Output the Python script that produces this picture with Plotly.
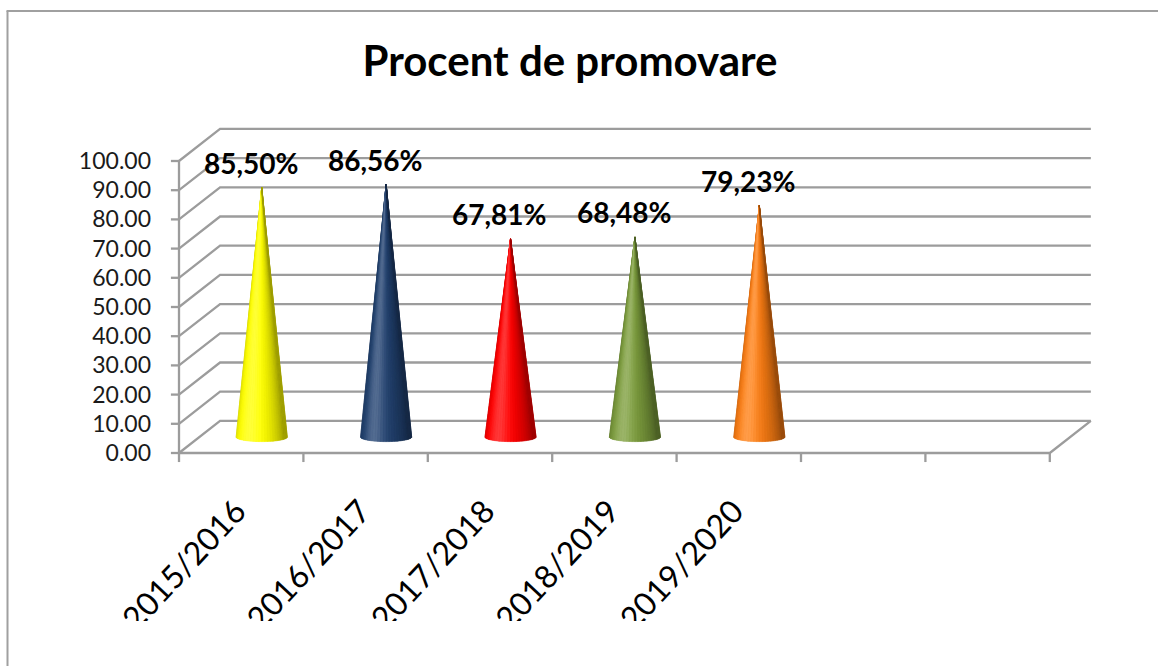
import math
import plotly.graph_objects as go

# ---------------- data ----------------
categories = ["2015/2016", "2016/2017", "2017/2018", "2018/2019", "2019/2020"]
values = [85.50, 86.56, 67.81, 68.48, 79.23]
cone_colors = ["#FFFF00", "#22416E", "#FF0000", "#7A9A3C", "#F87C14"]
y_ticks = [0, 10, 20, 30, 40, 50, 60, 70, 80, 90, 100]
y_tick_labels = ["%.2f" % v for v in y_ticks]
n_slots = 7  # category slots on the floor (5 used, 2 empty)
title_text = "Procent de promovare"

# ---------------- geometry (pixel layout) ----------------
W, H = 1158, 666
X0PX, XUNIT = 179.0, 124.4      # pixel of x=0 and pixels per category
Y0PX, YUNIT = 453.0, 2.92       # pixel of y=0 (front) and pixels per unit
L, R = 170, 1100
T, B = 120, 466
x_range = [(L - X0PX) / XUNIT, (R - X0PX) / XUNIT]
y_range = [(Y0PX - B) / YUNIT, (Y0PX - T) / YUNIT]
DX, DY = 0.33, 11.0             # depth offset in axis units

GRID = "#9C9C9C"

fig = go.Figure()

# walls / gridlines
gx, gy = [], []
for v in y_ticks:
    gx += [0, DX, n_slots + DX, None]
    gy += [v, v + DY, v + DY, None]
# floor
gx += [0, n_slots, n_slots + DX, None]
gy += [0, 0, DY, None]
# front value axis
gx += [0, 0, None]
gy += [0, y_ticks[-1], None]
# value-axis tick marks
for v in y_ticks:
    gx += [-0.065, 0, None]
    gy += [v, v, None]
# category-axis tick marks
for k in range(n_slots + 1):
    gx += [k, k, None]
    gy += [0, -3.1, None]
fig.add_trace(go.Scatter(x=gx, y=gy, mode="lines",
                         line=dict(color=GRID, width=2.3),
                         hoverinfo="skip", showlegend=False))


def hex_rgb(h):
    h = h.lstrip("#")
    return tuple(int(h[i:i + 2], 16) for i in (0, 2, 4))


def shade(rgb, phi):
    c = math.cos(phi + math.radians(28))
    k = 0.62 + 0.42 * max(0.0, c)
    spec = 0.22 * max(0.0, c) ** 12
    out = []
    for ch in rgb:
        v = ch * k
        v = v + (255 - v) * spec
        out.append(int(max(0, min(255, v))))
    return "rgb(%d,%d,%d)" % tuple(out)


HW = 0.207   # cone base half-width (category units)
BE = 1.6     # base ellipse half-height (value units)
NS = 28
for i, (v, col) in enumerate(zip(values, cone_colors)):
    rgb = hex_rgb(col)
    xc = i + 0.5 + DX / 2
    yb = DY / 2
    ya = v + DY / 2
    phis = [-math.pi / 2 + math.pi * s / NS for s in range(NS + 1)]
    sx = [xc] + [xc + HW * math.sin(p) for p in phis] + [xc]
    sy = [ya] + [yb - BE * math.cos(p) for p in phis] + [ya]
    fig.add_trace(go.Scatter(x=sx, y=sy, mode="lines", fill="toself",
                             fillcolor=shade(rgb, 0.3), line=dict(width=0, color=shade(rgb, 0.3)),
                             hoverinfo="skip", showlegend=False))
    for s in range(NS):
        p0, p1 = phis[s], phis[s + 1]
        c = shade(rgb, (p0 + p1) / 2)
        tx = [xc, xc + HW * math.sin(p0), xc + HW * math.sin(p1), xc]
        ty = [ya, yb - BE * math.cos(p0), yb - BE * math.cos(p1), ya]
        fig.add_trace(go.Scatter(x=tx, y=ty, mode="lines", fill="toself",
                                 fillcolor=c, line=dict(width=0.6, color=c),
                                 hoverinfo="skip", showlegend=False))
    fig.add_annotation(x=i + 0.5 + 0.075, y=ya + 8.4, xref="x", yref="y",
                       text="<b>" + ("%.2f" % v).replace(".", ",") + "%</b>",
                       showarrow=False, xanchor="center", yanchor="middle",
                       font=dict(family="Lato", size=28, color="#000000"))

Wp, Hp = R - L, B - T


def px_x(px):
    return (px - L) / Wp


def px_y(py):
    return (B - py) / Hp


shapes = [
    # crop of the category labels at the bottom
    dict(type="rect", xref="paper", yref="paper", x0=px_x(-5), x1=px_x(W + 5),
         y0=px_y(H + 5), y1=px_y(621), fillcolor="white", line=dict(width=0), layer="above"),
    # chart border (left and top)
    dict(type="line", xref="paper", yref="paper", x0=px_x(7.5), x1=px_x(7.5),
         y0=px_y(11), y1=px_y(H + 5), line=dict(color="#A0A0A0", width=2), layer="above"),
    dict(type="line", xref="paper", yref="paper", x0=px_x(6.5), x1=px_x(W + 5),
         y0=px_y(11), y1=px_y(11), line=dict(color="#A0A0A0", width=2), layer="above"),
]

fig.update_layout(
    width=W, height=H,
    margin=dict(l=L, r=W - R, t=T, b=H - B, pad=0),
    paper_bgcolor="white", plot_bgcolor="white",
    showlegend=False,
    title=dict(text="<b>" + title_text + "</b>", x=570 / W, xanchor="center",
               y=1 - 61 / H, yanchor="middle", yref="container",
               font=dict(family="Lato", size=42, color="#000000")),
    xaxis=dict(range=x_range, tickmode="array",
               tickvals=[i + 0.46 for i in range(len(categories))],
               ticktext=categories, tickangle=-47, ticks="",
               ticklabelstandoff=19,
               tickfont=dict(family="Lato", size=32, color="#000000"),
               showgrid=False, zeroline=False, showline=False, fixedrange=True),
    yaxis=dict(range=y_range, tickmode="array", tickvals=y_ticks,
               ticktext=y_tick_labels, ticks="", ticklabelstandoff=18,
               tickfont=dict(family="Lato", size=23, color="#1a1a1a"),
               showgrid=False, zeroline=False, showline=False, fixedrange=True),
    shapes=shapes,
)

fig.write_html("out.html", post_script="document.body.style.margin='0';",
               config={"displayModeBar": False})
